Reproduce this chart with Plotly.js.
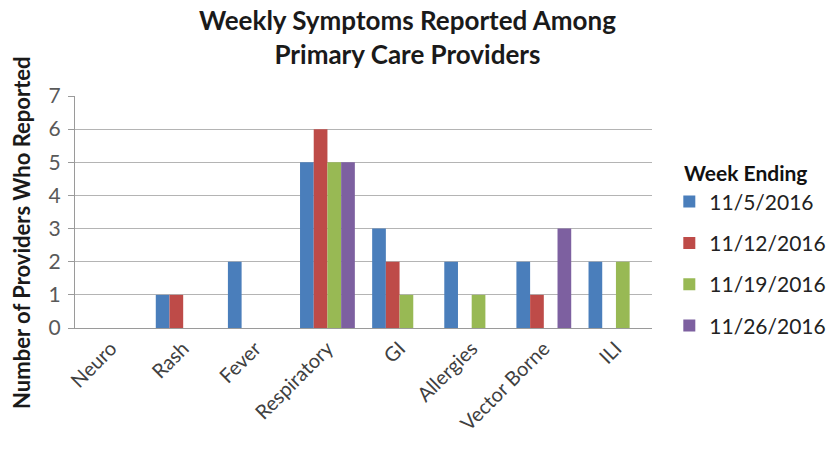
<!DOCTYPE html>
<html><head><meta charset="utf-8">
<script src="https://cdn.plot.ly/plotly-3.0.1.min.js"></script>
<style>html,body{margin:0;padding:0;background:#fff}</style>
</head><body>
<div id="chart" style="width:832px;height:450px"></div>
<script>
const categories = ["Neuro","Rash","Fever","Respiratory","GI","Allergies","Vector Borne","ILI"];
const seriesNames = ["11/5/2016","11/12/2016","11/19/2016","11/26/2016"];
const week1 = [0,1,2,5,3,2,2,2];
const week2 = [0,1,0,6,2,0,1,0];
const week3 = [0,0,0,5,1,1,0,2];
const week4 = [0,0,0,5,0,0,3,0];
const yTicks = [0,1,2,3,4,5,6,7];
const colors = ["#4a7ebb","#be4b48","#98b954","#7d60a0"];
const allSeries = [week1,week2,week3,week4];
const FONT = "Lato, 'Liberation Sans', sans-serif";

const traces = allSeries.map((vals,i)=>({
  type:"bar", x:categories, y:vals, name:seriesNames[i],
  marker:{color:colors[i]}, legendgroup:"g"+i
}));

const layout = {
  width:832, height:450,
  margin:{l:75,r:180,t:96,b:122, autoexpand:false},
  paper_bgcolor:"#fff", plot_bgcolor:"#fff",
  barmode:"group", bargap:0.24, bargroupgap:0,
  font:{family:FONT,color:"#404040"},
  showlegend:true,
  legend:{x:1.03,xanchor:"left",y:0.276,yanchor:"middle",
    font:{size:21,color:"#222"}, traceorder:"grouped", tracegroupgap:11,
    itemwidth:30},
  xaxis:{type:"category", tickangle:-45, tickfont:{size:20,color:"#404040"},
    showline:true, linecolor:"#9a9a9a", linewidth:1, showgrid:false, ticks:""},
  yaxis:{range:[0,7], tickvals:yTicks, ticktext:yTicks.map(String),
    tickfont:{size:21,color:"#595959"}, showgrid:true, gridcolor:"#b4b4b4",
    showline:true, linecolor:"#9a9a9a", ticks:"outside", ticklen:6, tickcolor:"#9a9a9a",
    ticklabelstandoff:3, zeroline:false, fixedrange:true},
  annotations:[
    {text:"<b>Weekly Symptoms Reported Among<br>Primary Care Providers</b>",
     xref:"paper",yref:"paper",x:0.577,y:1.0,yanchor:"bottom",xanchor:"center",
     yshift:24,showarrow:false,font:{size:26,color:"#1a1a1a",family:FONT}},
    {text:"<b>Number of Providers Who Reported</b>", textangle:-90,
     xref:"paper",yref:"paper",x:0,xshift:-53,xanchor:"center",y:0.41,yanchor:"middle",
     showarrow:false,font:{size:22,color:"#1a1a1a",family:FONT}},
    {text:"<b>Week Ending</b>", xref:"paper", yref:"paper", x:1, xshift:30,
     xanchor:"left", y:0.67, yanchor:"middle", showarrow:false,
     font:{size:21,color:"#111",family:FONT}}
  ]
};
Plotly.newPlot("chart",traces,layout,{displayModeBar:false,staticPlot:true});
</script>
</body></html>
